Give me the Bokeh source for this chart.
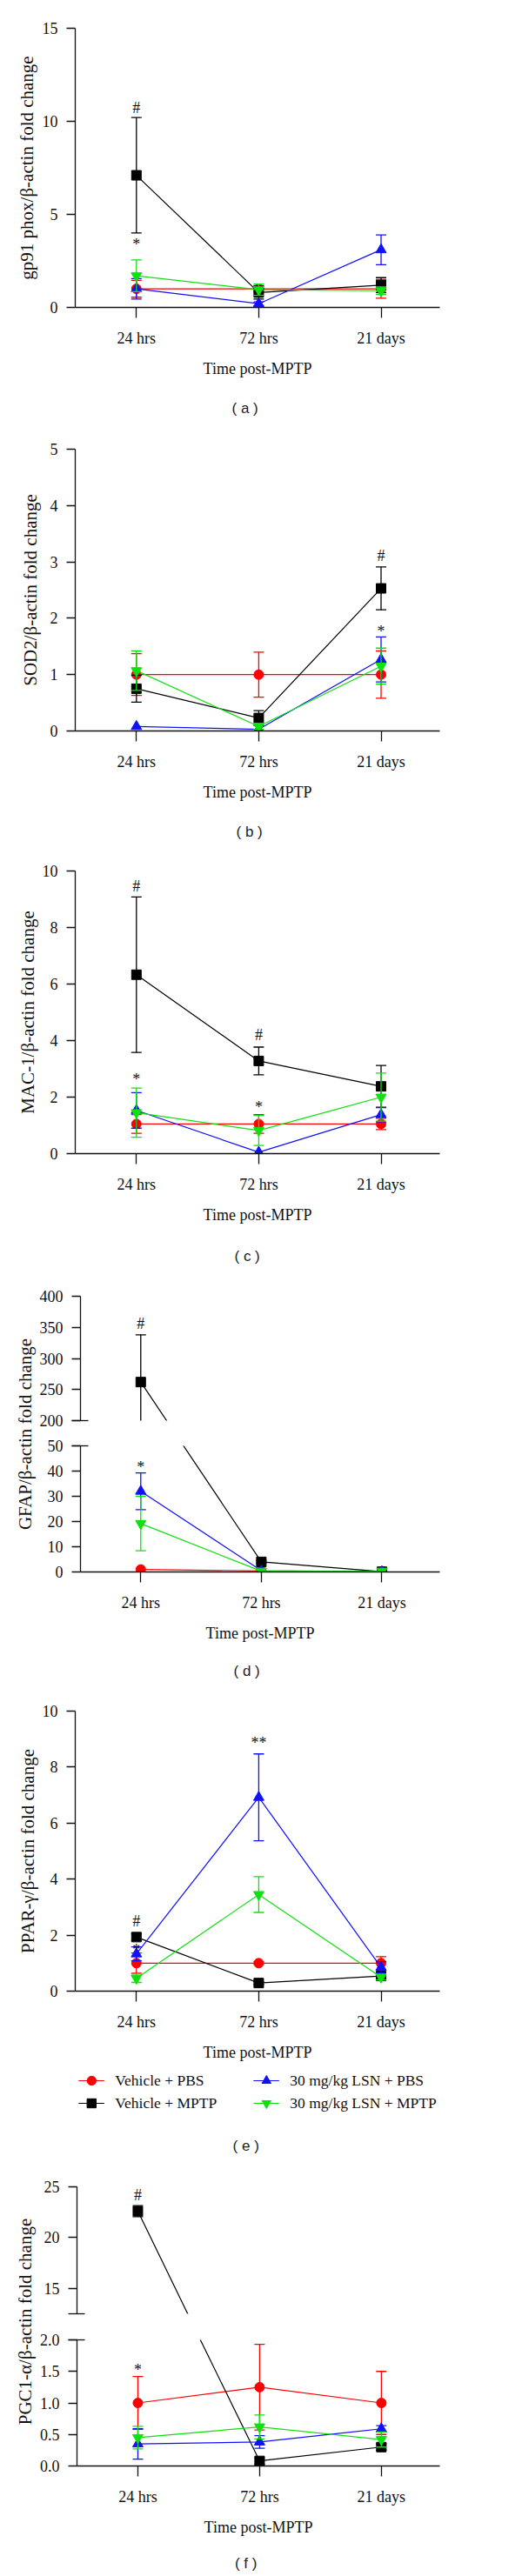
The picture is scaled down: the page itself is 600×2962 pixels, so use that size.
from bokeh.plotting import figure
from bokeh.models import (ColumnDataSource, FixedTicker, LabelSet, Legend,
                          LegendItem, Title, Range1d, NumeralTickFormatter,
                          CustomJSTransform)
from bokeh.core.properties import value
from bokeh.transform import transform
from bokeh.layouts import column, row
from bokeh.embed import file_html
from bokeh.resources import INLINE

# ---------------- data ----------------
categories = ["24 hrs", "72 hrs", "21 days"]
groups = ["Vehicle + PBS", "Vehicle + MPTP", "30 mg/kg LSN + PBS", "30 mg/kg LSN + MPTP"]

# (a) gp91 phox
gp91_veh_pbs = [1.0, 1.0, 1.0]
gp91_veh_pbs_sem = [0.45, 0.15, 0.5]
gp91_veh_mptp = [7.1, 0.8, 1.2]
gp91_veh_mptp_sem = [3.1, 0.35, 0.4]
gp91_lsn_pbs = [1.0, 0.2, 3.1]
gp91_lsn_pbs_sem = [0.55, 0.1, 0.8]
gp91_lsn_mptp = [1.7, 0.95, 0.9]
gp91_lsn_mptp_sem = [0.85, 0.3, 0.2]
gp91_marks = [("Vehicle + MPTP", 0, "#"), ("30 mg/kg LSN + MPTP", 0, "*")]

# (b) SOD2
sod2_veh_pbs = [1.0, 1.0, 1.0]
sod2_veh_pbs_sem = [0.37, 0.4, 0.42]
sod2_veh_mptp = [0.75, 0.23, 2.53]
sod2_veh_mptp_sem = [0.24, 0.13, 0.38]
sod2_lsn_pbs = [0.08, 0.03, 1.27]
sod2_lsn_pbs_sem = [0.0, 0.0, 0.4]
sod2_lsn_mptp = [1.07, 0.08, 1.15]
sod2_lsn_mptp_sem = [0.35, 0.05, 0.32]
sod2_marks = [("Vehicle + MPTP", 2, "#"), ("30 mg/kg LSN + PBS", 2, "*")]

# (c) MAC-1
mac1_veh_pbs = [1.05, 1.05, 1.05]
mac1_veh_pbs_sem = [0.33, 0.33, 0.2]
mac1_veh_mptp = [6.33, 3.28, 2.38]
mac1_veh_mptp_sem = [2.75, 0.49, 0.74]
mac1_lsn_pbs = [1.53, 0.05, 1.38]
mac1_lsn_pbs_sem = [0.63, 0.0, 0.25]
mac1_lsn_mptp = [1.45, 0.82, 2.0]
mac1_lsn_mptp_sem = [0.87, 0.53, 0.85]
mac1_marks = [("Vehicle + MPTP", 0, "#"), ("Vehicle + MPTP", 1, "#"),
              ("30 mg/kg LSN + MPTP", 0, "*"), ("30 mg/kg LSN + MPTP", 1, "*")]

# (d) GFAP
gfap_veh_pbs = [1.0, 0.4, 0.2]
gfap_veh_pbs_sem = [0.0, 0.0, 0.0]
gfap_veh_mptp = [262.0, 4.0, 0.1]
gfap_veh_mptp_sem = [76.0, 0.5, 0.0]
gfap_lsn_pbs = [32.0, 0.5, 0.1]
gfap_lsn_pbs_sem = [7.3, 0.0, 0.0]
gfap_lsn_mptp = [19.2, 0.3, 0.3]
gfap_lsn_mptp_sem = [10.8, 0.0, 0.0]
gfap_marks = [("Vehicle + MPTP", 0, "#"), ("30 mg/kg LSN + PBS", 0, "*")]

# (e) PPAR-gamma
ppar_veh_pbs = [1.0, 1.0, 1.0]
ppar_veh_pbs_sem = [0.36, 0.05, 0.23]
ppar_veh_mptp = [1.93, 0.29, 0.54]
ppar_veh_mptp_sem = [0.12, 0.05, 0.08]
ppar_lsn_pbs = [1.33, 6.92, 0.85]
ppar_lsn_pbs_sem = [0.25, 1.55, 0.2]
ppar_lsn_mptp = [0.46, 3.45, 0.5]
ppar_lsn_mptp_sem = [0.15, 0.64, 0.1]
ppar_marks = [("Vehicle + MPTP", 0, "#"), ("30 mg/kg LSN + PBS", 0, "*"),
              ("30 mg/kg LSN + PBS", 1, "**")]

# (f) PGC1-alpha
pgc1_veh_pbs = [1.0, 1.25, 1.0]
pgc1_veh_pbs_sem = [0.42, 0.68, 0.5]
pgc1_veh_mptp = [22.6, 0.08, 0.3]
pgc1_veh_mptp_sem = [0.55, 0.05, 0.05]
pgc1_lsn_pbs = [0.35, 0.38, 0.59]
pgc1_lsn_pbs_sem = [0.24, 0.1, 0.05]
pgc1_lsn_mptp = [0.45, 0.62, 0.42]
pgc1_lsn_mptp_sem = [0.18, 0.19, 0.12]
pgc1_marks = [("Vehicle + MPTP", 0, "#"), ("Vehicle + PBS", 1, "#"),
              ("Vehicle + PBS", 0, "*")]

# ---------------- style ----------------
SERIF = "Liberation Serif"
SANS = "Liberation Sans"
COLORS = {groups[0]: "#ff0000", groups[1]: "#000000",
          groups[2]: "#1010ff", groups[3]: "#10e010"}
MARKERS = {groups[0]: "circle", groups[1]: "square",
           groups[2]: "triangle", groups[3]: "inverted_triangle"}
MSIZE = {groups[0]: 11, groups[1]: 11, groups[2]: 12, groups[3]: 12}
FRAME_RIGHT = 505
PAGE_W = 600
XR = (-0.5, 2.48)
CAPTION_X = 281


def series(vp, vps, vm, vms, lp, lps, lm, lms):
    means = dict(zip(groups, [vp, vm, lp, lm]))
    sems = dict(zip(groups, [vps, vms, lps, lms]))
    return means, sems


def style_plain(p):
    p.outline_line_color = None
    p.grid.visible = False
    p.background_fill_color = "white"
    p.border_fill_color = "white"


def broken_map(side, lo, hi, bot_ppu, top_ppu, gap_px):
    """Keeps lines straight across a broken value axis (as in the original)."""
    code = """
    const out = new Array(xs.length);
    for (let i = 0; i < xs.length; i++) {
      const v = xs[i];
      let px;
      if (v <= lo) px = (v - lo) * bs;
      else if (v >= hi) px = gap + (v - hi) * ts;
      else px = (v - lo) / (hi - lo) * gap;
      out[i] = (side === "bottom") ? lo + px / bs : hi + (px - gap) / ts;
    }
    return out;
    """
    return CustomJSTransform(args=dict(side=side, lo=lo, hi=hi, bs=bot_ppu,
                                       ts=top_ppu, gap=gap_px), v_func=code)


def make_fig(frame_left, canvas_left, top, frame_h, bottom, yr, yticks,
             minor=(), show_x=True, ylabel=None, ylabel_standoff=6, fmt=None):
    p = figure(width=PAGE_W - canvas_left, height=top + frame_h + bottom,
               min_border_left=frame_left - canvas_left,
               min_border_right=PAGE_W - FRAME_RIGHT,
               min_border_top=top, min_border_bottom=bottom,
               x_range=Range1d(*XR), y_range=Range1d(*yr),
               output_backend="svg", toolbar_location=None, tools="")
    style_plain(p)
    yax = p.yaxis[0]
    yax.ticker = FixedTicker(ticks=list(yticks), minor_ticks=list(minor))
    if fmt:
        yax.formatter = NumeralTickFormatter(format=fmt)
    yax.major_tick_out = 10
    yax.major_tick_in = 0
    yax.minor_tick_out = 10
    yax.minor_tick_in = 9
    for ax in (yax, p.xaxis[0]):
        ax.axis_line_width = 1.3
        ax.axis_line_color = "#111111"
        ax.major_tick_line_width = 1.3
        ax.major_tick_line_color = "#111111"
        ax.minor_tick_line_width = 1.3
        ax.minor_tick_line_color = "#111111"
        ax.major_label_text_font = SERIF
        ax.major_label_text_font_size = "18px"
        ax.major_label_text_color = "#111111"
        ax.axis_label_text_font = SERIF
        ax.axis_label_text_font_style = "normal"
        ax.axis_label_text_color = "#111111"
    yax.major_label_standoff = 10
    if ylabel:
        yax.axis_label = ylabel
        yax.axis_label_text_font_size = "21px"
        yax.axis_label_standoff = ylabel_standoff
    xax = p.xaxis[0]
    if show_x:
        xax.ticker = FixedTicker(ticks=[0, 1, 2], minor_ticks=[])
        xax.major_label_overrides = {i: c for i, c in enumerate(categories)}
        xax.major_tick_out = 12
        xax.major_tick_in = 0
        xax.major_label_standoff = 13
        xax.axis_label = "Time post-MPTP"
        xax.axis_label_text_font_size = "18px"
        xax.axis_label_standoff = 12
    else:
        xax.visible = False
    return p


def draw(p, means, sems, tr=None):
    def yspec(name):
        return transform(name, tr) if tr is not None else name
    xs_all = list(range(len(categories)))
    for g in groups:
        m, s, c = means[g], sems[g], COLORS[g]
        idx = [i for i in xs_all if s[i] > 0]
        if idx:
            lo = [m[i] - s[i] for i in idx]
            hi = [m[i] + s[i] for i in idx]
            bars = ColumnDataSource(dict(x=idx, lo=lo, hi=hi))
            p.segment(x0="x", y0=yspec("lo"), x1="x", y1=yspec("hi"), source=bars,
                      line_color=c, line_width=1.3)
            caps = ColumnDataSource(dict(x=idx + idx, y=hi + lo))
            p.scatter(x="x", y=yspec("y"), source=caps, marker="dash", size=12,
                      line_color=c, line_width=1.3)
        pts = ColumnDataSource(dict(x=xs_all, y=m))
        p.line(x="x", y=yspec("y"), source=pts, line_color=c, line_width=1.2)
        p.scatter(x="x", y=yspec("y"), source=pts, marker=MARKERS[g], size=MSIZE[g],
                  fill_color=c, line_color=c)


def add_marks(p, means, sems, marks, offsets, lo, hi):
    xs, ys, ts, offs = [], [], [], []
    for (g, i, sym), off in zip(marks, offsets):
        y = means[g][i] + sems[g][i]
        if lo <= y <= hi:
            xs.append(i); ys.append(y); ts.append(sym); offs.append(off)
    if xs:
        src = ColumnDataSource(dict(x=xs, y=ys, t=ts, off=offs))
        p.add_layout(LabelSet(x="x", y="y", text="t", y_offset="off", source=src,
                              text_align="center", text_baseline="middle",
                              text_font=SERIF, text_font_size="18px",
                              text_color="#111111"))


def add_caption(p, text, frame_left, standoff):
    p.add_layout(Title(text=text, align="left", text_font=SANS,
                       text_font_size="17px", text_font_style="normal",
                       text_color="#222222", standoff=standoff,
                       offset=CAPTION_X - 15 - frame_left), "below")


def caption_fig(text, height, center_from_top):
    """A strip holding only a panel caption, in pixel units."""
    cf = figure(width=PAGE_W, height=height, min_border=0,
                x_range=Range1d(0, PAGE_W), y_range=Range1d(0, height),
                x_axis_location=None, y_axis_location=None,
                output_backend="svg", toolbar_location=None, tools="")
    style_plain(cf)
    cf.text(x=[CAPTION_X], y=[height - center_from_top], text=[text],
            text_align="center", text_baseline="middle",
            text_font=value(SANS), text_font_size="17px", text_color="#222222")
    return cf


def label_fig(text, width, height, top, bottom):
    lf = figure(width=width, height=height,
                min_border_left=width - 2, min_border_right=0,
                min_border_top=top, min_border_bottom=bottom,
                x_range=Range1d(0, 1), y_range=Range1d(0, 1),
                x_axis_location=None, y_axis_location=None,
                output_backend="svg", toolbar_location=None, tools="")
    style_plain(lf)
    lf.add_layout(Title(text=text, align="center", text_font=SERIF,
                        text_font_size="21px", text_font_style="normal",
                        text_color="#111111", standoff=0), "left")
    return lf


# ---------------- (a) ----------------
m, s = series(gp91_veh_pbs, gp91_veh_pbs_sem, gp91_veh_mptp, gp91_veh_mptp_sem,
              gp91_lsn_pbs, gp91_lsn_pbs_sem, gp91_lsn_mptp, gp91_lsn_mptp_sem)
pa = make_fig(86, 0, 32, 321, 152, (0, 15), [0, 5, 10, 15],
              ylabel="gp91 phox/\u03b2-actin fold change", ylabel_standoff=3)
draw(pa, m, s)
add_marks(pa, m, s, gp91_marks, [11.5, 17.5], 0, 15)
add_caption(pa, "( a )", 86, 42)

# ---------------- (b) ----------------
m, s = series(sod2_veh_pbs, sod2_veh_pbs_sem, sod2_veh_mptp, sod2_veh_mptp_sem,
              sod2_lsn_pbs, sod2_lsn_pbs_sem, sod2_lsn_mptp, sod2_lsn_mptp_sem)
pb = make_fig(81, 0, 11, 324, 152, (0, 5), [0, 1, 2, 3, 4, 5],
              ylabel="SOD2/\u03b2-actin fold change", ylabel_standoff=8)
draw(pb, m, s)
add_marks(pb, m, s, sod2_marks, [13, 6], 0, 5)
add_caption(pb, "( b )", 81, 42)

# ---------------- (c) ----------------
m, s = series(mac1_veh_pbs, mac1_veh_pbs_sem, mac1_veh_mptp, mac1_veh_mptp_sem,
              mac1_lsn_pbs, mac1_lsn_pbs_sem, mac1_lsn_mptp, mac1_lsn_mptp_sem)
pc = make_fig(83, 0, 9, 325, 156, (0, 10), [0, 2, 4, 6, 8, 10],
              ylabel="MAC-1/\u03b2-actin fold change", ylabel_standoff=2)
draw(pc, m, s)
add_marks(pc, m, s, mac1_marks, [12.5, 13.5, 10, 9.5], 0, 10)
add_caption(pc, "( c )", 83, 46)

# ---------------- (d) broken axis ----------------
m, s = series(gfap_veh_pbs, gfap_veh_pbs_sem, gfap_veh_mptp, gfap_veh_mptp_sem,
              gfap_lsn_pbs, gfap_lsn_pbs_sem, gfap_lsn_mptp, gfap_lsn_mptp_sem)
LW = 42
D_LO, D_HI, D_TOP_H, D_BOT_H, D_GAP = 50, 200, 143, 145, 29
pd_top = make_fig(90, LW, 8, D_TOP_H, 14, (D_HI, 400), [200, 250, 300, 350, 400],
                  minor=[D_HI], show_x=False)
draw(pd_top, m, s, broken_map("top", D_LO, D_HI, D_BOT_H / D_LO,
                              D_TOP_H / (400 - D_HI), D_GAP))
add_marks(pd_top, m, s, gfap_marks, [12.5, 6.5], D_HI, 400)
pd_bot = make_fig(90, LW, 15, D_BOT_H, 148, (0, D_LO), [0, 10, 20, 30, 40, 50],
                  minor=[D_LO])
draw(pd_bot, m, s, broken_map("bottom", D_LO, D_HI, D_BOT_H / D_LO,
                              D_TOP_H / (400 - D_HI), D_GAP))
add_marks(pd_bot, m, s, gfap_marks, [12.5, 6.5], 0, D_LO)
add_caption(pd_bot, "( d )", 90, 38)
ld = label_fig("GFAP/\u03b2-actin fold change", LW, 165 + 308, 8, 148)

# ---------------- (e) ----------------
m, s = series(ppar_veh_pbs, ppar_veh_pbs_sem, ppar_veh_mptp, ppar_veh_mptp_sem,
              ppar_lsn_pbs, ppar_lsn_pbs_sem, ppar_lsn_mptp, ppar_lsn_mptp_sem)
pe = make_fig(83, 0, 12, 325, 80, (0, 10), [0, 2, 4, 6, 8, 10],
              ylabel="PPAR-\u03b3/\u03b2-actin fold change", ylabel_standoff=2)
draw(pe, m, s)
add_marks(pe, m, s, ppar_marks, [14, -3.5, 12.5], 0, 10)

# legend strip below (e): proxy renderers kept outside the visible range
pleg = figure(width=PAGE_W, height=66,
              min_border_left=83, min_border_right=PAGE_W - FRAME_RIGHT,
              min_border_top=0, min_border_bottom=0,
              x_range=Range1d(10, 11), y_range=Range1d(10, 11),
              x_axis_location=None, y_axis_location=None,
              output_backend="svg", toolbar_location=None, tools="")
style_plain(pleg)
items = []
for g in groups:
    ln = pleg.line(x=[0, 1], y=[0, 0], line_color=COLORS[g], line_width=1.2)
    mk = pleg.scatter(x=[0], y=[0], marker=MARKERS[g], size=MSIZE[g] + 2,
                      fill_color=COLORS[g], line_color=COLORS[g])
    items.append(LegendItem(label=g, renderers=[ln, mk]))
legend = Legend(items=items, location="center", orientation="vertical", ncols=2,
                label_text_font=SERIF, label_text_font_size="17.5px",
                label_text_color="#111111",
                glyph_width=30, glyph_height=26, label_height=26,
                label_width=158, label_standoff=13, spacing=0, padding=0,
                margin=0, border_line_color=None, background_fill_alpha=0)
pleg.add_layout(legend)
cap_e = caption_fig("( e )", 56, 29)

# ---------------- (f) broken axis ----------------
m, s = series(pgc1_veh_pbs, pgc1_veh_pbs_sem, pgc1_veh_mptp, pgc1_veh_mptp_sem,
              pgc1_lsn_pbs, pgc1_lsn_pbs_sem, pgc1_lsn_mptp, pgc1_lsn_mptp_sem)
LF = 42
F_LO, F_HI, F_TOP_H, F_BOT_H, F_GAP = 2.0, 12.5, 146, 146, 30
pf_top = make_fig(87, LF, 20, F_TOP_H, 12, (F_HI, 25), [15, 20, 25],
                  minor=[F_HI], show_x=False)
draw(pf_top, m, s, broken_map("top", F_LO, F_HI, F_BOT_H / F_LO,
                              F_TOP_H / (25 - F_HI), F_GAP))
add_marks(pf_top, m, s, pgc1_marks, [12.5, 13.5, 8], F_HI, 25)
pf_bot = make_fig(87, LF, 18, F_BOT_H, 82, (0, F_LO), [0, 0.5, 1.0, 1.5, 2.0],
                  minor=[F_LO], fmt="0.0")
draw(pf_bot, m, s, broken_map("bottom", F_LO, F_HI, F_BOT_H / F_LO,
                              F_TOP_H / (25 - F_HI), F_GAP))
add_marks(pf_bot, m, s, pgc1_marks, [12.5, 13.5, 8], 0, F_LO)
lfig = label_fig("PGC1-\u03b1/\u03b2-actin fold change", LF, 178 + 246, 14, 88)
cap_f = caption_fig("( f )", 43, 29)

layout = column(pa, pb, pc,
                row(ld, column(pd_top, pd_bot)),
                pe, pleg, cap_e,
                row(lfig, column(pf_top, pf_bot)),
                cap_f)

open("out.html", "w").write(file_html(layout, INLINE))
